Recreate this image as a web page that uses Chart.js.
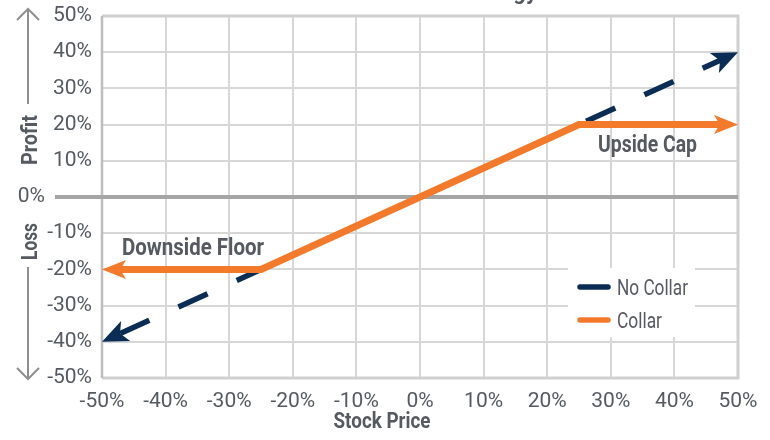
<!DOCTYPE html>
<html><head><meta charset="utf-8">
<script src="https://cdn.jsdelivr.net/npm/chart.js@4"></script>
<style>html,body{margin:0;padding:0;background:#fff}#wrap{width:770px;height:440px}</style>
</head><body><div id="wrap"><canvas id="c" width="770" height="440"></canvas></div>
<script>
// ---- data ----
const seriesNames = ['No Collar', 'Collar'];
const noCollarX = [-50, 50];
const noCollarY = [-40, 40];
const collarX = [-50, -25, 25, 50];
const collarY = [-20, -20, 20, 20];
const xTicks = [-50, -40, -30, -20, -10, 0, 10, 20, 30, 40, 50];
const yTicks = [-50, -40, -30, -20, -10, 0, 10, 20, 30, 40, 50];
const axisTitles = { x: 'Stock Price', up: 'Profit', down: 'Loss' };
const noteLabels = ['Downside Floor', 'Upside Cap'];
const titleText = 'Collar Strategy';

// ---- styles ----
const FONT = 'Roboto, "Noto Sans", sans-serif';
const TXT = '#555a61';
const NAVY = '#0b2d55';
const ORANGE = '#f37a2b';
const GRID = '#d7d7d7';

const toPts = (xs, ys) => xs.map((x, i) => ({ x: x, y: ys[i] }));

function fitText(ctx, s, x, y, font, w, align, baseline) {
  ctx.save();
  ctx.font = font;
  const nat = ctx.measureText(s).width;
  const sx = w ? w / nat : 1;
  ctx.translate(x, y);
  ctx.scale(sx, 1);
  ctx.textAlign = align || 'left';
  ctx.textBaseline = baseline || 'alphabetic';
  ctx.fillText(s, 0, 0);
  ctx.restore();
}

function arrowHead(ctx, tip, from, len, halfW, color) {
  const dx = tip.x - from.x, dy = tip.y - from.y;
  const d = Math.hypot(dx, dy);
  const ux = dx / d, uy = dy / d, nx = -uy, ny = ux;
  ctx.save();
  ctx.fillStyle = color;
  ctx.beginPath();
  ctx.moveTo(tip.x, tip.y);
  ctx.lineTo(tip.x - ux * len + nx * halfW, tip.y - uy * len + ny * halfW);
  ctx.lineTo(tip.x - ux * len * 0.76, tip.y - uy * len * 0.76);
  ctx.lineTo(tip.x - ux * len - nx * halfW, tip.y - uy * len - ny * halfW);
  ctx.closePath();
  ctx.fill();
  ctx.restore();
}

function endPoints(chart) {
  const xs = chart.scales.x, ys = chart.scales.y;
  const res = [];
  chart.data.datasets.forEach((ds, i) => {
    const d = ds.data, n = d.length;
    const p = (pt) => ({ x: xs.getPixelForValue(pt.x), y: ys.getPixelForValue(pt.y) });
    res.push({ tip: p(d[0]), from: p(d[1]), color: ds.borderColor, ds: i });
    res.push({ tip: p(d[n - 1]), from: p(d[n - 2]), color: ds.borderColor, ds: i });
  });
  return res;
}

const decor = {
  id: 'decor',
  beforeDatasetsDraw(chart) {
    const ctx = chart.ctx, a = chart.chartArea;
    const y0 = chart.scales.y.getPixelForValue(0);
    ctx.save();
    ctx.strokeStyle = '#cfcfcf';
    ctx.lineWidth = 3;
    ctx.beginPath();
    ctx.moveTo(a.left, a.top); ctx.lineTo(a.right, a.top); ctx.lineTo(a.right, a.bottom); ctx.lineTo(a.left, a.bottom);
    ctx.stroke();
    ctx.strokeStyle = '#bdbdbd';
    ctx.lineWidth = 2.5;
    ctx.beginPath(); ctx.moveTo(a.left, a.top); ctx.lineTo(a.left, a.bottom); ctx.stroke();
    ctx.strokeStyle = '#a5a5a5';
    ctx.lineWidth = 4;
    ctx.beginPath(); ctx.moveTo(55, y0); ctx.lineTo(a.right, y0); ctx.stroke();
    ctx.restore();
    ctx.save();
    ctx.beginPath();
    ctx.rect(0, 0, chart.width, chart.height);
    endPoints(chart).forEach(e => {
      const r = e.ds === 0 ? 9 : 12;
      ctx.moveTo(e.tip.x + r, e.tip.y);
      ctx.arc(e.tip.x, e.tip.y, r, 0, Math.PI * 2);
    });
    ctx.clip('evenodd');
  },
  afterDatasetsDraw(chart) {
    const ctx = chart.ctx;
    const ys = chart.scales.y;
    ctx.restore();
    endPoints(chart).forEach(e => {
      if (e.ds === 0) arrowHead(ctx, e.tip, e.from, 26, 11, e.color);
      else arrowHead(ctx, e.tip, e.from, 24, 9.5, e.color);
    });
    ctx.save();
    ctx.fillStyle = TXT;
    // annotations
    fitText(ctx, noteLabels[0], 122, 255, 'bold 23px ' + FONT, 142, 'left');
    fitText(ctx, noteLabels[1], 598, 152, 'bold 23px ' + FONT, 99, 'left');
    // legend
    ctx.fillStyle = '#ffffff';
    ctx.fillRect(568, 268, 127, 69);
    const leg = [[seriesNames[0], NAVY, 287, 71], [seriesNames[1], ORANGE, 320, 45]];
    leg.forEach(l => {
      ctx.strokeStyle = l[1];
      ctx.lineWidth = 5.5;
      ctx.lineCap = 'round';
      ctx.beginPath(); ctx.moveTo(580, l[2]); ctx.lineTo(608, l[2]); ctx.stroke();
      ctx.fillStyle = TXT;
      fitText(ctx, l[0], 617, l[2] + 8, '22px ' + FONT, l[3], 'left');
    });
    ctx.fillStyle = TXT;
    // 0% label
    fitText(ctx, '0%', 45, ys.getPixelForValue(0), '21px ' + FONT, 0, 'right', 'middle');
    // x axis title
    fitText(ctx, axisTitles.x, 382, 428, 'bold 22px ' + FONT, 97, 'center');
    // y axis titles (rotated)
    ctx.save();
    ctx.translate(37, 140);
    ctx.rotate(-Math.PI / 2);
    fitText(ctx, axisTitles.up, 0, 0, 'bold 22px ' + FONT, 50, 'center');
    ctx.restore();
    ctx.save();
    ctx.translate(37, 241.5);
    ctx.rotate(-Math.PI / 2);
    fitText(ctx, axisTitles.down, 0, 0, 'bold 22px ' + FONT, 37, 'center');
    ctx.restore();
    // y axis arrows
    ctx.strokeStyle = '#8e8e8e';
    ctx.lineWidth = 2;
    ctx.lineCap = 'butt';
    ctx.beginPath();
    ctx.moveTo(28, 104); ctx.lineTo(28, 9);
    ctx.moveTo(17, 20); ctx.lineTo(28, 9); ctx.lineTo(39, 20);
    ctx.moveTo(28, 267); ctx.lineTo(28, 379);
    ctx.moveTo(17, 368); ctx.lineTo(28, 379); ctx.lineTo(39, 368);
    ctx.stroke();
    // cut-off title
    fitText(ctx, titleText, 537, -1, 'bold 22px ' + FONT, 0, 'right');
    ctx.restore();
  }
};

new Chart(document.getElementById('c'), {
  type: 'scatter',
  data: {
    datasets: [
      { label: seriesNames[0], data: toPts(noCollarX, noCollarY), showLine: true, borderColor: NAVY, backgroundColor: NAVY,
        borderWidth: 5.5, borderDash: [32, 32], borderDashOffset: 44, pointRadius: 0, borderCapStyle: 'butt', order: 2 },
      { label: seriesNames[1], data: toPts(collarX, collarY), showLine: true, borderColor: ORANGE, backgroundColor: ORANGE,
        borderWidth: 7, pointRadius: 0, borderJoinStyle: 'miter', borderCapStyle: 'butt', order: 1 }
    ]
  },
  options: {
    responsive: false,
    animation: false,
    layout: { padding: { top: 16, right: 32, left: 0, bottom: 0 } },
    plugins: { legend: { display: false }, tooltip: { enabled: false } },
    scales: {
      x: {
        type: 'linear', min: -50, max: 50,
        afterBuildTicks: s => { s.ticks = xTicks.map(v => ({ value: v })); },
        afterFit: s => { s.height = 62; s.paddingLeft = 0; s.paddingRight = 0; },
        ticks: { callback: v => v + '%', color: TXT, font: { family: FONT, size: 21 }, padding: 11, maxRotation: 0, autoSkip: false },
        grid: { color: GRID, lineWidth: 2, drawTicks: false },
        border: { display: false }
      },
      y: {
        type: 'linear', min: -50, max: 50,
        afterBuildTicks: s => { s.ticks = yTicks.map(v => ({ value: v })); },
        afterFit: s => { s.width = 102; s.paddingTop = 0; s.paddingBottom = 0; },
        ticks: { callback: v => v === 0 ? '' : v + '%', color: TXT, font: { family: FONT, size: 21 }, padding: 10, autoSkip: false },
        grid: { color: GRID, lineWidth: 2, drawTicks: false },
        border: { display: false }
      }
    }
  },
  plugins: [decor]
});
</script>
</body></html>
